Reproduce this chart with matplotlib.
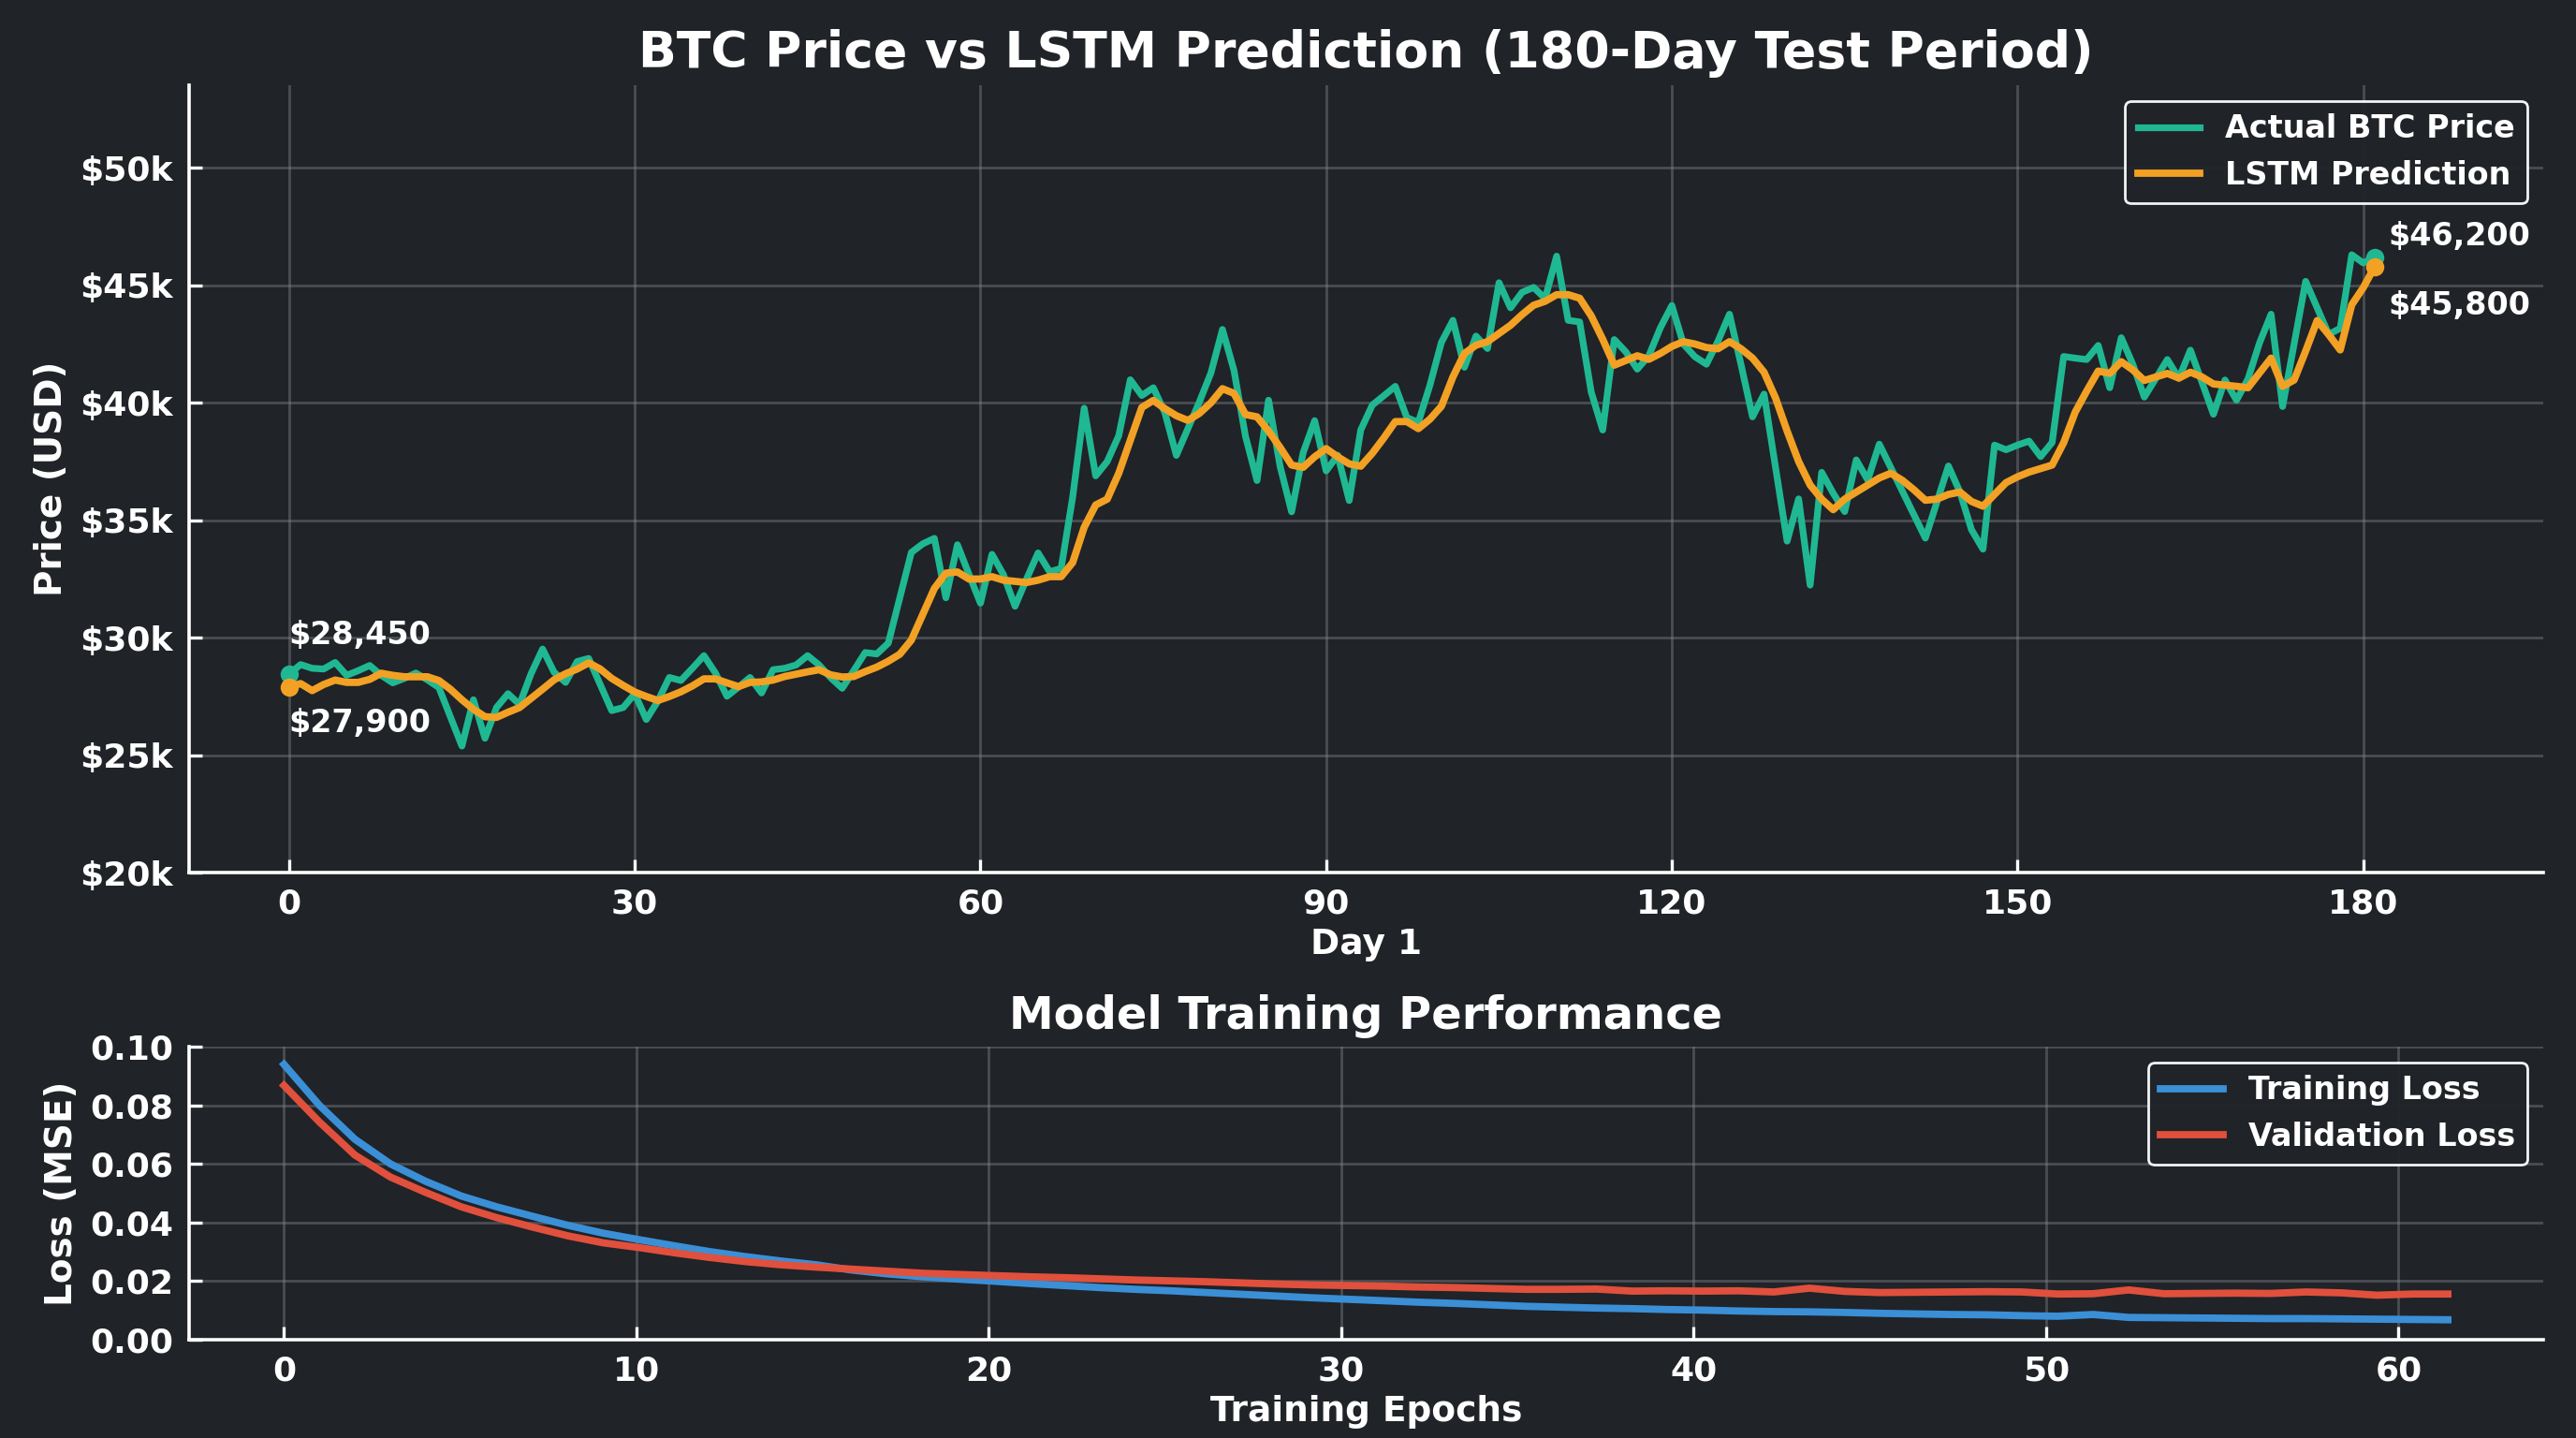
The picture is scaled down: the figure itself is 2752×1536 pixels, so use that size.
import numpy as np
import matplotlib
matplotlib.use("Agg")
import matplotlib.pyplot as plt
from matplotlib.ticker import FuncFormatter

# ---- data ----
days = np.arange(182)

actual_price = [
    28450, 28860, 28700, 28670, 28950, 28400, 28600, 28820, 28400, 28080,
    28270, 28500, 28210, 27880, 26640, 25390, 27360, 25720, 27030, 27620,
    27160, 28470, 29520, 28530, 28100, 28990, 29120, 28010, 26900, 27030,
    27620, 26520, 27300, 28310, 28180, 28700, 29240, 28500, 27510, 27900,
    28310, 27650, 28640, 28700, 28840, 29240, 28840, 28300, 27850, 28600,
    29370, 29310, 29770, 31700, 33630, 34000, 34230, 31700, 33960, 32700,
    31470, 33550, 32680, 31340, 32500, 33610, 32810, 32950, 35980, 39770,
    36890, 37500, 38600, 40980, 40310, 40640, 39580, 37760, 38900, 40040,
    41270, 43120, 41380, 38570, 36690, 40110, 37300, 35360, 37870, 39240,
    37100, 37770, 35840, 38840, 39900, 40300, 40700, 39370, 39170, 40740,
    42570, 43510, 41510, 42840, 42310, 45110, 44040, 44700, 44910, 44440,
    46240, 43510, 43440, 40460, 38840, 42690, 42170, 41430, 42000, 43190,
    44140, 42500, 41960, 41640, 42620, 43770, 41630, 39400, 40370, 37240,
    34110, 35910, 32240, 37040, 36150, 35370, 37570, 36710, 38240, 37240,
    36240, 35240, 34240, 35770, 37310, 36200, 34600, 33770, 38200, 38000,
    38200, 38370, 37710, 38310, 41970, 41900, 41840, 42440, 40640, 42770,
    41640, 40240, 41040, 41840, 41040, 42240, 40870, 39510, 40970, 40110,
    41020, 42550, 43770, 39840, 42500, 45170, 44040, 42910, 43170, 46300,
    45950, 46200,
]

lstm_pred = [
    27900, 28050, 27750, 28010, 28200, 28100, 28100, 28230, 28490, 28400,
    28340, 28340, 28340, 28180, 27810, 27360, 26960, 26640, 26610, 26830,
    27030, 27420, 27810, 28210, 28470, 28670, 28930, 28670, 28270, 27970,
    27690, 27500, 27330, 27500, 27700, 27950, 28250, 28250, 28080, 27920,
    28100, 28120, 28200, 28350, 28450, 28550, 28640, 28420, 28330, 28350,
    28560, 28750, 29000, 29300, 29900, 31000, 32100, 32750, 32800, 32500,
    32500, 32600, 32450, 32400, 32350, 32450, 32600, 32600, 33200, 34700,
    35650, 35900, 37000, 38400, 39800, 40100, 39750, 39450, 39250, 39550,
    40000, 40600, 40400, 39500, 39400, 38800, 38100, 37350, 37250, 37700,
    38050, 37700, 37400, 37300, 37850, 38500, 39200, 39200, 38900, 39300,
    39850, 41100, 42100, 42450, 42600, 42950, 43300, 43750, 44150, 44320,
    44600, 44600, 44450, 43700, 42700, 41600, 41800, 42000, 41850, 42100,
    42400, 42600, 42500, 42350, 42300, 42600, 42300, 41900, 41300, 40200,
    38800, 37500, 36500, 35900, 35450, 35900, 36200, 36500, 36800, 37000,
    36700, 36300, 35850, 35900, 36100, 36200, 35800, 35600, 36100, 36600,
    36850, 37050, 37200, 37350, 38300, 39600, 40500, 41350, 41250, 41750,
    41400, 40950, 41100, 41250, 41050, 41300, 41100, 40800, 40750, 40700,
    40640, 41270, 41900, 40700, 40970, 42200, 43500, 42900, 42250, 44170,
    44900, 45800,
]

epochs = np.linspace(0, 61.4, 62)

train_loss = [
    0.0940, 0.0800, 0.0684, 0.0600, 0.0540, 0.0490, 0.0453, 0.0421, 0.0390, 0.0363,
    0.0341, 0.0320, 0.0300, 0.0283, 0.0268, 0.0255, 0.0237, 0.0224, 0.0214, 0.0206,
    0.0199, 0.0191, 0.0184, 0.0177, 0.0171, 0.0166, 0.0160, 0.0154, 0.0148, 0.0142,
    0.0137, 0.0132, 0.0127, 0.0123, 0.0118, 0.0113, 0.0110, 0.0107, 0.0105, 0.0102,
    0.0100, 0.0097, 0.0095, 0.0094, 0.0092, 0.0089, 0.0087, 0.0085, 0.0084, 0.0081,
    0.0079, 0.0085, 0.0075, 0.0074, 0.0073, 0.0072, 0.0071, 0.0071, 0.0070, 0.0069,
    0.0068, 0.0067,
]

val_loss = [
    0.0868, 0.0743, 0.0630, 0.0555, 0.0502, 0.0453, 0.0416, 0.0384, 0.0354, 0.0330,
    0.0314, 0.0296, 0.0280, 0.0266, 0.0255, 0.0247, 0.0240, 0.0233, 0.0226, 0.0222,
    0.0218, 0.0214, 0.0211, 0.0207, 0.0203, 0.0200, 0.0197, 0.0193, 0.0189, 0.0186,
    0.0184, 0.0182, 0.0179, 0.0177, 0.0174, 0.0171, 0.0171, 0.0172, 0.0165, 0.0166,
    0.0165, 0.0166, 0.0162, 0.0175, 0.0164, 0.0160, 0.0161, 0.0162, 0.0163, 0.0162,
    0.0155, 0.0156, 0.0169, 0.0156, 0.0157, 0.0158, 0.0157, 0.0162, 0.0159, 0.0151,
    0.0155, 0.0155,
]

price_ticks = [20000, 25000, 30000, 35000, 40000, 45000, 50000]
day_ticks = [0, 30, 60, 90, 120, 150, 180]
loss_ticks = [0.00, 0.02, 0.04, 0.06, 0.08, 0.10]
epoch_ticks = [0, 10, 20, 30, 40, 50, 60]

# ---- style ----
BG = "#202328"
TEAL = "#1fb892"
ORANGE = "#f2a124"
BLUE = "#3a8fd6"
RED = "#e0503c"
FG = "white"

plt.rcParams["font.family"] = ["DejaVu Sans"]
plt.rcParams["font.weight"] = "bold"


def style_axes(ax):
    ax.set_facecolor(BG)
    for side in ("top", "right"):
        ax.spines[side].set_visible(False)
    for side in ("left", "bottom"):
        ax.spines[side].set_color(FG)
        ax.spines[side].set_linewidth(1.3)
    ax.tick_params(colors=FG, direction="in", length=5, width=1.2, labelsize=13, pad=6)
    for lab in ax.get_xticklabels() + ax.get_yticklabels():
        lab.set_fontweight("bold")
    ax.grid(True, color="#8a8d92", alpha=0.4, linewidth=1.0)
    ax.set_axisbelow(True)


fig = plt.figure(figsize=(13.76, 7.68), dpi=200, facecolor=BG)

# ---- price panel ----
ax1 = fig.add_axes([0.0733, 0.3931, 0.9139, 0.5474])
ax1.plot(days, actual_price, color=TEAL, lw=2.6, label="Actual BTC Price", zorder=3)
ax1.plot(days, lstm_pred, color=ORANGE, lw=2.8, label="LSTM Prediction", zorder=4)
ax1.plot([days[0], days[-1]], [actual_price[0], actual_price[-1]], "o",
         color=TEAL, ms=6, zorder=5)
ax1.plot([days[0], days[-1]], [lstm_pred[0], lstm_pred[-1]], "o",
         color=ORANGE, ms=6, zorder=6)

ax1.set_xlim(-8.7, 195.6)
ax1.set_ylim(20000, 53500)
ax1.set_xticks(day_ticks)
ax1.set_yticks(price_ticks)
ax1.yaxis.set_major_formatter(FuncFormatter(lambda v, p: f"${v / 1000:.0f}k"))
style_axes(ax1)

ann = dict(color=FG, fontsize=12, fontweight="bold", textcoords="offset points")
ax1.annotate(f"${actual_price[0]:,.0f}", xy=(days[0], actual_price[0]),
             xytext=(0, 9), ha="left", va="bottom", **ann)
ax1.annotate(f"${lstm_pred[0]:,.0f}", xy=(days[0], lstm_pred[0]),
             xytext=(0, -8), ha="left", va="top", **ann)
ax1.annotate(f"${actual_price[-1]:,.0f}", xy=(days[-1], actual_price[-1]),
             xytext=(5, 2), ha="left", va="bottom", **ann)
ax1.annotate(f"${lstm_pred[-1]:,.0f}", xy=(days[-1], lstm_pred[-1]),
             xytext=(5, -9), ha="left", va="top", **ann)

ax1.set_title("BTC Price vs LSTM Prediction (180-Day Test Period)",
              color=FG, fontsize=19.3, fontweight="bold", pad=7)
ax1.set_xlabel("Day 1", color=FG, fontsize=13.5, fontweight="bold", labelpad=3)
ax1.set_ylabel("Price (USD)", color=FG, fontsize=14, fontweight="bold")
leg1 = ax1.legend(loc="upper right", facecolor=BG, edgecolor=FG, framealpha=0.95,
                  labelcolor=FG, prop={"weight": "bold", "size": 12})
leg1.get_frame().set_linewidth(1.0)

# ---- loss panel ----
ax2 = fig.add_axes([0.0733, 0.0686, 0.9139, 0.2034])
ax2.plot(epochs, train_loss, color=BLUE, lw=2.8, label="Training Loss", zorder=3)
ax2.plot(epochs, val_loss, color=RED, lw=2.8, label="Validation Loss", zorder=3)
ax2.set_xlim(-2.7, 64.1)
ax2.set_ylim(0, 0.10)
ax2.set_xticks(epoch_ticks)
ax2.set_yticks(loss_ticks)
ax2.yaxis.set_major_formatter(FuncFormatter(lambda v, p: f"{v:.2f}"))
style_axes(ax2)

ax2.set_title("Model Training Performance", color=FG, fontsize=17.3,
              fontweight="bold", pad=7)
ax2.set_xlabel("Training Epochs", color=FG, fontsize=13.5, fontweight="bold", labelpad=3)
ax2.set_ylabel("Loss (MSE)", color=FG, fontsize=14, fontweight="bold")
leg2 = ax2.legend(loc="upper right", facecolor=BG, edgecolor=FG, framealpha=0.95,
                  labelcolor=FG, prop={"weight": "bold", "size": 12})
leg2.get_frame().set_linewidth(1.0)

fig.savefig("out.png", dpi=200, facecolor=BG)
